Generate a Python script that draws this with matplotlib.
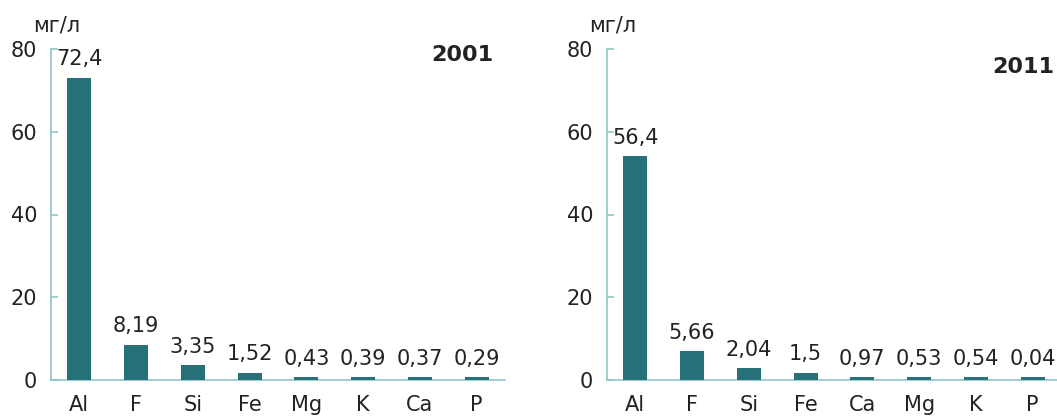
import matplotlib.pyplot as plt

# data
elements_2001 = ['Al', 'F', 'Si', 'Fe', 'Mg', 'K', 'Ca', 'P']
heights_2001 = [73.0, 8.5, 3.6, 1.7, 0.7, 0.7, 0.7, 0.7]
labels_2001 = ['72,4', '8,19', '3,35', '1,52', '0,43', '0,39', '0,37', '0,29']

elements_2011 = ['Al', 'F', 'Si', 'Fe', 'Ca', 'Mg', 'K', 'P']
heights_2011 = [54.1, 7.0, 2.9, 1.7, 0.7, 0.7, 0.7, 0.7]
labels_2011 = ['56,4', '5,66', '2,04', '1,5', '0,97', '0,53', '0,54', '0,04']

yticks = [0, 20, 40, 60, 80]

bar_color = '#26707A'
axis_color = '#8FC5C8'
text_color = '#222222'

plt.rcParams['font.family'] = ['DejaVu Sans']

W, H = 1057, 416
fig = plt.figure(figsize=(W / 100, H / 100), dpi=100)


def panel(left_px, names, heights, labels, year, year_xy, year_ha):
    ax = fig.add_axes([left_px / W, 36 / H, 454 / W, 331 / H])
    x = range(len(names))
    ax.bar(x, heights, width=0.42, color=bar_color, zorder=3)
    for xi, h, lab in zip(x, heights, labels):
        ax.annotate(lab, (xi, h), xytext=(0, 9), textcoords='offset points',
                    ha='center', va='baseline', fontsize=15, color=text_color)
    ax.set_xlim(-0.5, len(names) - 0.5)
    ax.set_ylim(0, 80)
    ax.set_yticks(yticks)
    ax.set_xticks(list(x))
    ax.set_xticklabels(names)
    for s in ['top', 'right']:
        ax.spines[s].set_visible(False)
    for s in ['left', 'bottom']:
        ax.spines[s].set_color(axis_color)
        ax.spines[s].set_linewidth(1.2)
    ax.tick_params(axis='y', direction='in', length=5, width=1.2,
                   color=axis_color, labelsize=15, labelcolor=text_color, pad=10)
    ax.tick_params(axis='x', length=0, labelsize=15, labelcolor=text_color, pad=11)
    ax.annotate('мг/л', (0, 1), xycoords='axes fraction', xytext=(-13, 17),
                textcoords='offset points', ha='left', va='center',
                fontsize=15, color=text_color)
    ax.text(year_xy[0], year_xy[1], year, transform=ax.transAxes,
            ha=year_ha, va='center', fontsize=16, fontweight='bold',
            color=text_color)
    return ax


panel(51, elements_2001, heights_2001, labels_2001, '2001', (0.974, 0.982), 'right')
panel(607, elements_2011, heights_2011, labels_2011, '2011', (0.985, 0.946), 'right')

fig.savefig('out.png', dpi=100, facecolor='white')
